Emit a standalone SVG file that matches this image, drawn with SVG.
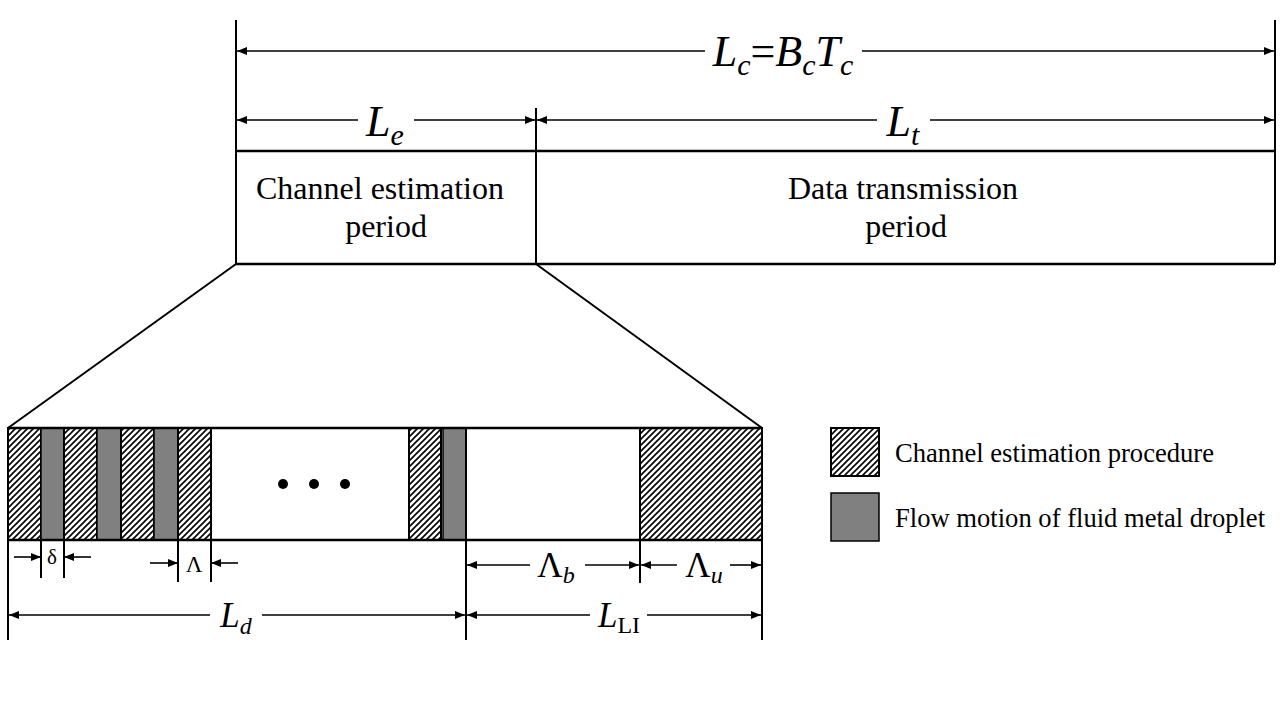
<svg xmlns="http://www.w3.org/2000/svg" width="1280" height="720" viewBox="0 0 1280 720">
<defs>
<pattern id="hatch" patternUnits="userSpaceOnUse" width="6" height="6">
<path d="M0,6 L6,0 M-1,1 L1,-1 M5,7 L7,5" stroke="#000" stroke-width="1.6"/>
</pattern>
<marker id="arr" viewBox="0 0 10 8" refX="10" refY="4" markerWidth="10" markerHeight="8" markerUnits="userSpaceOnUse" orient="auto-start-reverse">
<path d="M0,0 L10,4 L0,8 Z" fill="#000"/>
</marker>
<style>
.ln{stroke:#000;stroke-width:2;fill:none}
.th{stroke:#000;stroke-width:2.5;fill:none}
.dim{stroke:#000;stroke-width:1.6;fill:none}
.t{font-family:"Liberation Serif","Times New Roman",serif;fill:#000}
.i{font-style:italic}
.hat{fill:url(#hatch);stroke:#000;stroke-width:2}
.gry{fill:#808080;stroke:#000;stroke-width:1.5}
</style>
</defs>
<rect width="1280" height="720" fill="#fff"/>

<g id="frame-top">
<line class="ln" x1="236" y1="20" x2="236" y2="264"/>
<line class="ln" x1="1275" y1="20" x2="1275" y2="264"/>
<line class="ln" x1="536" y1="108" x2="536" y2="264"/>
<line class="th" x1="236" y1="151" x2="1275" y2="151"/>
<line class="th" x1="236" y1="264" x2="1275" y2="264"/>
</g>

<g id="node-channel-estimation-period">
<text class="t" x="380" y="199" font-size="32" text-anchor="middle">Channel estimation</text>
<text class="t" x="386" y="237" font-size="32" text-anchor="middle">period</text>
</g>
<g id="node-data-transmission-period">
<text class="t" x="903" y="199" font-size="32" text-anchor="middle">Data transmission</text>
<text class="t" x="906" y="237" font-size="32" text-anchor="middle">period</text>
</g>

<g id="connectors">
<line class="dim" x1="705" y1="51" x2="237" y2="51" marker-end="url(#arr)"/>
<line class="dim" x1="862" y1="51" x2="1274" y2="51" marker-end="url(#arr)"/>
<line class="dim" x1="358" y1="120" x2="237" y2="120" marker-end="url(#arr)"/>
<line class="dim" x1="414" y1="120" x2="535" y2="120" marker-end="url(#arr)"/>
<line class="dim" x1="877" y1="120" x2="537" y2="120" marker-end="url(#arr)"/>
<line class="dim" x1="930" y1="120" x2="1274" y2="120" marker-end="url(#arr)"/>
<line class="ln" x1="236" y1="264" x2="8" y2="428"/>
<line class="ln" x1="536" y1="264" x2="762" y2="428"/>
<line class="dim" x1="14" y1="557" x2="41" y2="557" marker-end="url(#arr)"/>
<line class="dim" x1="91" y1="557" x2="64" y2="557" marker-end="url(#arr)"/>
<line class="dim" x1="150" y1="563" x2="178" y2="563" marker-end="url(#arr)"/>
<line class="dim" x1="238" y1="563" x2="211" y2="563" marker-end="url(#arr)"/>
<line class="dim" x1="530" y1="565" x2="467" y2="565" marker-end="url(#arr)"/>
<line class="dim" x1="585" y1="565" x2="639" y2="565" marker-end="url(#arr)"/>
<line class="dim" x1="677" y1="565" x2="641" y2="565" marker-end="url(#arr)"/>
<line class="dim" x1="730" y1="565" x2="761" y2="565" marker-end="url(#arr)"/>
<line class="dim" x1="210" y1="615" x2="9" y2="615" marker-end="url(#arr)"/>
<line class="dim" x1="262" y1="615" x2="465" y2="615" marker-end="url(#arr)"/>
<line class="dim" x1="590" y1="615" x2="467" y2="615" marker-end="url(#arr)"/>
<line class="dim" x1="647" y1="615" x2="761" y2="615" marker-end="url(#arr)"/>
</g>

<g id="labels">
<text class="t i" x="783" y="66" font-size="44" text-anchor="middle">L<tspan font-size="30" dy="9">c</tspan><tspan font-style="normal" dy="-9">=</tspan>B<tspan font-size="30" dy="9">c</tspan><tspan dy="-9">T</tspan><tspan font-size="30" dy="9">c</tspan></text>
<text class="t i" x="385" y="136" font-size="44" text-anchor="middle">L<tspan font-size="30" dy="9">e</tspan></text>
<text class="t i" x="903" y="136" font-size="44" text-anchor="middle">L<tspan font-size="30" dy="9">t</tspan></text>
<text class="t" x="52" y="564" font-size="21" text-anchor="middle">δ</text>
<text class="t" x="194" y="572" font-size="23" text-anchor="middle">Λ</text>
<text class="t" x="556" y="577" font-size="35" text-anchor="middle">Λ<tspan class="i" font-size="24" dy="6">b</tspan></text>
<text class="t" x="704" y="577" font-size="35" text-anchor="middle">Λ<tspan class="i" font-size="24" dy="6">u</tspan></text>
<text class="t i" x="236" y="627" font-size="35" text-anchor="middle">L<tspan font-size="24" dy="7">d</tspan></text>
<text class="t i" x="619" y="627" font-size="35" text-anchor="middle">L<tspan font-style="normal" font-size="24" dy="6">LI</tspan></text>
</g>

<g id="node-timeline">
<rect class="hat" x="8" y="428" width="33" height="112"/>
<rect class="gry" x="41" y="428" width="23" height="112"/>
<rect class="hat" x="64" y="428" width="33" height="112"/>
<rect class="gry" x="97" y="428" width="24" height="112"/>
<rect class="hat" x="121" y="428" width="33" height="112"/>
<rect class="gry" x="154" y="428" width="24" height="112"/>
<rect class="hat" x="178" y="428" width="33" height="112"/>
<rect class="hat" x="409" y="428" width="32" height="112"/>
<rect class="gry" x="443" y="428" width="23" height="112"/>
<rect class="hat" x="640" y="428" width="122" height="112"/>
<line class="th" x1="8" y1="428" x2="762" y2="428"/>
<line class="th" x1="8" y1="540" x2="762" y2="540"/>
<line class="ln" x1="8" y1="428" x2="8" y2="640"/>
<line class="ln" x1="762" y1="428" x2="762" y2="640"/>
<line class="ln" x1="466" y1="428" x2="466" y2="640"/>
<line class="ln" x1="640" y1="428" x2="640" y2="583"/>
<line class="ln" x1="41" y1="540" x2="41" y2="578"/>
<line class="ln" x1="64" y1="540" x2="64" y2="578"/>
<line class="ln" x1="178" y1="540" x2="178" y2="582"/>
<line class="ln" x1="211" y1="540" x2="211" y2="582"/>
<circle cx="283" cy="484" r="5" fill="#000"/>
<circle cx="314" cy="484" r="5" fill="#000"/>
<circle cx="345" cy="484" r="5" fill="#000"/>
</g>

<g id="legend-hatched">
<rect class="hat" x="831" y="428" width="48" height="48" stroke-width="1.5"/>
<text class="t" x="895" y="462" font-size="26.6">Channel estimation procedure</text>
</g>
<g id="legend-gray">
<rect class="gry" x="831" y="493" width="48" height="48"/>
<text class="t" x="895" y="527" font-size="26.6">Flow motion of fluid metal droplet</text>
</g>
</svg>
